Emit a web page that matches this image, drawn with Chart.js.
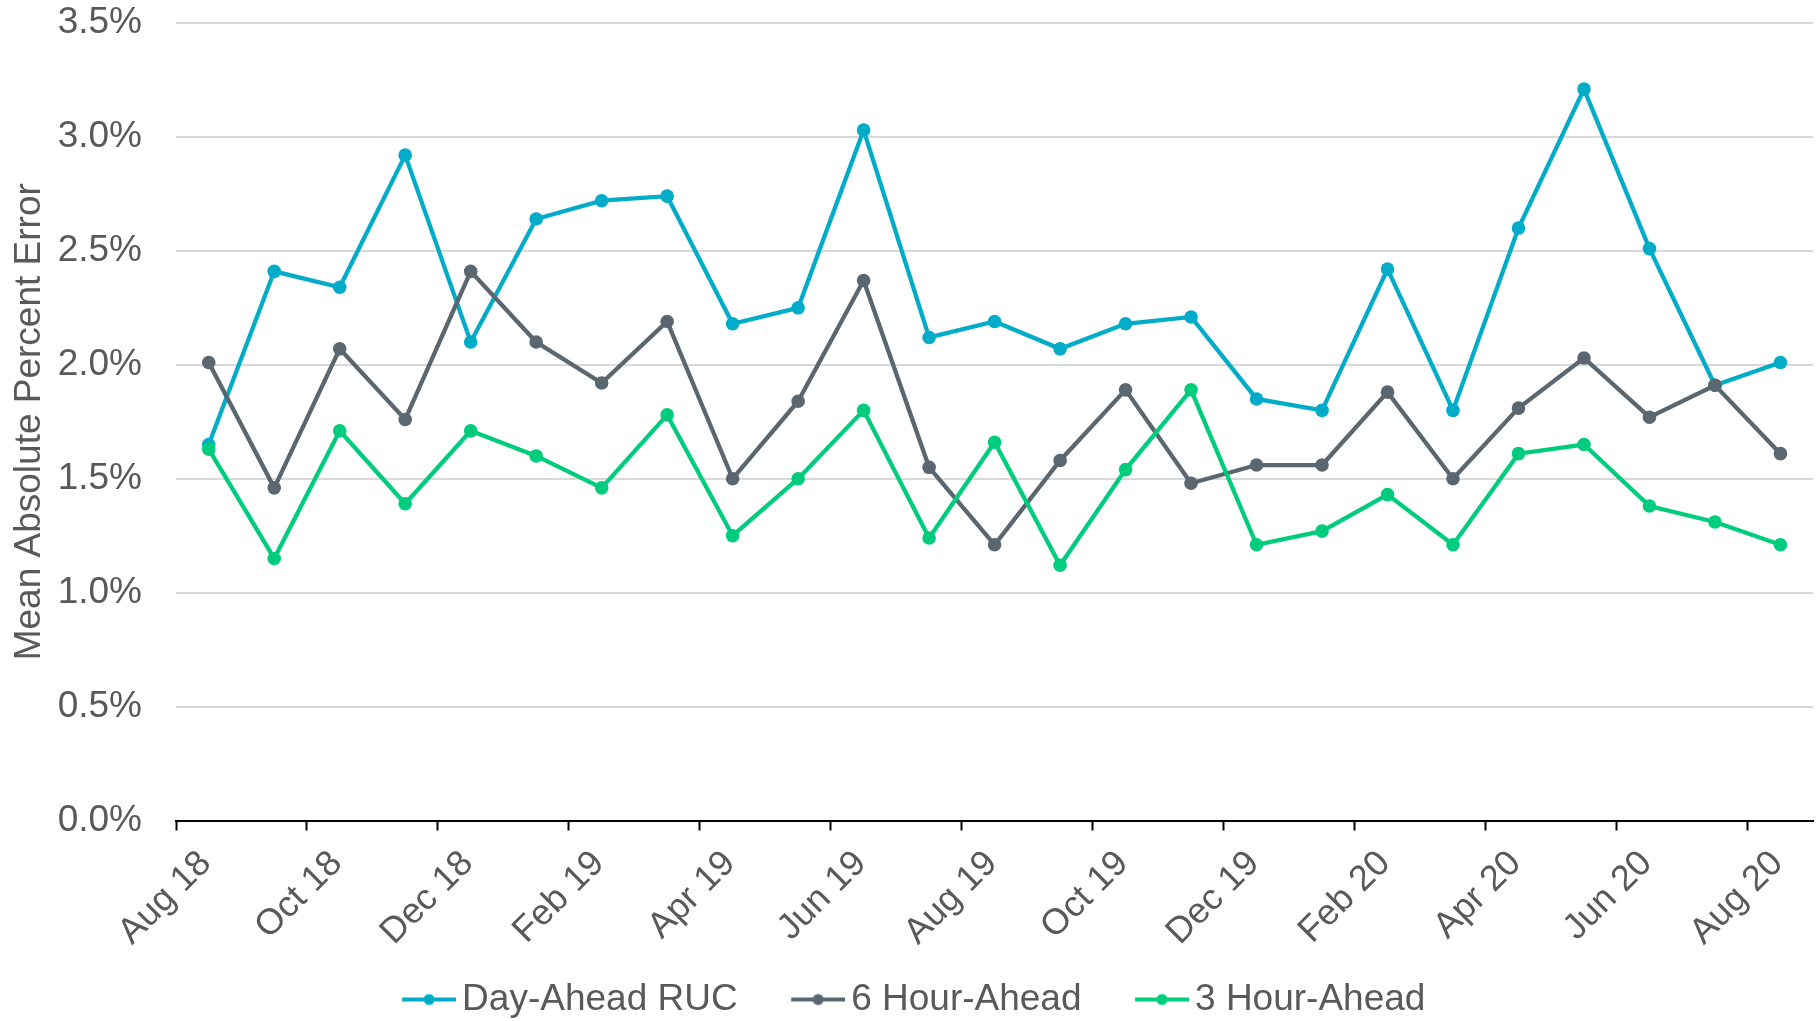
<!DOCTYPE html>
<html><head><meta charset="utf-8">
<script src="https://cdn.jsdelivr.net/npm/chart.js@4/dist/chart.umd.min.js"></script>
<style>html,body{margin:0;padding:0;background:#fff;}</style>
</head><body>
<canvas id="c" width="1820" height="1021"></canvas>
<script>
const months = ['Aug 18','Sep 18','Oct 18','Nov 18','Dec 18','Jan 19','Feb 19','Mar 19','Apr 19','May 19','Jun 19','Jul 19','Aug 19','Sep 19','Oct 19','Nov 19','Dec 19','Jan 20','Feb 20','Mar 20','Apr 20','May 20','Jun 20','Jul 20','Aug 20'];
const seriesNames = ['Day-Ahead RUC','6 Hour-Ahead','3 Hour-Ahead'];
const dayAheadRUC    = [1.65,2.41,2.34,2.92,2.10,2.64,2.72,2.74,2.18,2.25,3.03,2.12,2.19,2.07,2.18,2.21,1.85,1.80,2.42,1.80,2.60,3.21,2.51,1.91,2.01];
const sixHourAhead   = [2.01,1.46,2.07,1.76,2.41,2.10,1.92,2.19,1.50,1.84,2.37,1.55,1.21,1.58,1.89,1.48,1.56,1.56,1.88,1.50,1.81,2.03,1.77,1.91,1.61];
const threeHourAhead = [1.63,1.15,1.71,1.39,1.71,1.60,1.46,1.78,1.25,1.50,1.80,1.24,1.66,1.12,1.54,1.89,1.21,1.27,1.43,1.21,1.61,1.65,1.38,1.31,1.21];
const yTickValues = [0,0.5,1,1.5,2,2.5,3,3.5];
const colors = ['#00ACC8','#5B6770','#00CC7D'];
const textColor = '#595959';
const fontFamily = '"Liberation Sans", Arial, sans-serif';

// legend sample: line with a dot, drawn at the right part of a wider transparent canvas
const LEG_BOX = 53;
function legendImage(color){
  const W = LEG_BOX + 25, lineLen = 54;
  const c = document.createElement('canvas');
  c.width = W; c.height = 14;
  const g = c.getContext('2d');
  const x0 = W - lineLen;
  g.strokeStyle = color; g.lineWidth = 4;
  g.beginPath(); g.moveTo(x0,7); g.lineTo(W,7); g.stroke();
  g.fillStyle = color;
  g.beginPath(); g.arc(x0 + lineLen/2,7,5.5,0,Math.PI*2); g.fill();
  return c;
}
const legendImgs = colors.map(legendImage);

const seriesData = [dayAheadRUC, sixHourAhead, threeHourAhead];
const datasets = seriesData.map((d,i)=>({
  label: seriesNames[i],
  data: d,
  borderColor: colors[i],
  backgroundColor: colors[i],
  pointBackgroundColor: colors[i],
  pointBorderWidth: 0,
  pointRadius: 6.8,
  borderWidth: 4.3,
  tension: 0,
  order: 3 - i
}));

new Chart(document.getElementById('c'), {
  type: 'line',
  data: { labels: months, datasets },
  options: {
    responsive: false,
    animation: false,
    devicePixelRatio: 1,
    layout: { padding: { top: 23, right: 4, bottom: -7, left: 0 } },
    plugins: {
      tooltip: { enabled: false },
      legend: {
        position: 'bottom',
        labels: {
          usePointStyle: true,
          pointStyleWidth: LEG_BOX,
          padding: 42,
          color: textColor,
          font: { family: fontFamily, size: 37 },
          generateLabels: (chart) => chart.data.datasets.map((ds,i)=>({
            text: ds.label, pointStyle: legendImgs[i], fillStyle: ds.borderColor,
            strokeStyle: ds.borderColor, lineWidth: 0, hidden: false, datasetIndex: i, fontColor: textColor
          }))
        }
      }
    },
    scales: {
      x: {
        type: 'category',
        offset: true,
        grid: {
          offset: true,
          drawOnChartArea: false,
          drawTicks: true,
          tickLength: 10,
          tickWidth: 2,
          tickColor: (ctx) => (ctx.index !== undefined && ctx.index % 2 === 0) ? '#000000' : 'rgba(0,0,0,0)'
        },
        border: { display: true, color: '#000000', width: 2 },
        ticks: {
          autoSkip: false,
          maxRotation: 45,
          minRotation: 45,
          padding: 12,
          labelOffset: -3,
          color: textColor,
          font: { family: fontFamily, size: 36 },
          callback: (v, i) => (i % 2 === 0 ? months[i] : '')
        },
        afterFit: (s) => {
          s.height = 118.5;
          s.paddingLeft = 0; s.paddingRight = 0;
          s._computeLabelArea = () => undefined;
        }
      },
      y: {
        min: 0, max: 3.5,
        afterBuildTicks: (s) => { s.ticks = yTickValues.map(v => ({ value: v })); },
        afterFit: (s) => { s.width = 176; s.paddingTop = 0; s.paddingBottom = 0; },
        grid: { color: '#D9D9D9', lineWidth: 2, drawTicks: false },
        border: { display: false },
        ticks: {
          padding: 34,
          color: textColor,
          font: { family: fontFamily, size: 37 },
          callback: (v) => v.toFixed(1) + '%'
        },
        title: {
          display: true,
          text: 'Mean Absolute Percent Error',
          color: textColor,
          font: { family: fontFamily, size: 37 },
          padding: { top: 8, bottom: 4 }
        }
      }
    }
  }
});
</script>
</body></html>
